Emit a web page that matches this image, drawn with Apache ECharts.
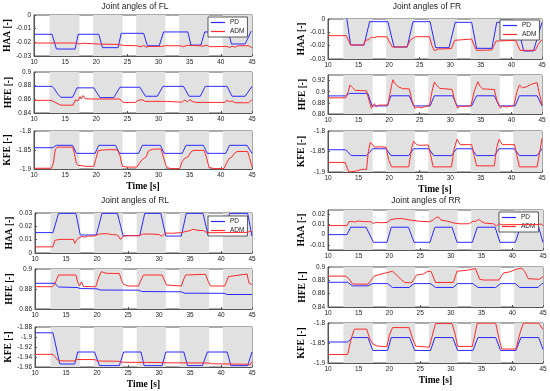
<!DOCTYPE html>
<html><head><meta charset="utf-8">
<script src="https://cdn.jsdelivr.net/npm/echarts@6/dist/echarts.min.js"></script>
<style>html,body{margin:0;padding:0;background:#fff}#c{width:550px;height:391px}</style>
</head><body><div id="c"></div>
<script>
// ---------------- DATA ----------------
const panelTitles = ['Joint angles of FL', 'Joint angles of FR', 'Joint angles of RL', 'Joint angles of RR'];
const jointNames = ['HAA [-]', 'HFE [-]', 'KFE [-]'];
const seriesNames = ['PD', 'ADM'];
const timeLabel = 'Time [s]';
const grayBands = [[12.5, 17.3], [19.5, 24.2], [26.4, 31.1], [33.3, 38.1], [40.3, 45]];

// FL
const FL_HAA_PD = [[10,-0.0141],[12.9,-0.0141],[13.6,-0.0249],[16.6,-0.0249],[17.1,-0.0141],[20.4,-0.0141],[21.0,-0.0239],[23.5,-0.0239],[24.0,-0.0134],[27.6,-0.0134],[28.2,-0.0225],[30.1,-0.0225],[30.8,-0.0124],[34.7,-0.0124],[35.2,-0.022],[36.8,-0.022],[37.4,-0.0124],[41.2,-0.0124],[41.7,-0.0212],[43.9,-0.0212],[44.9,-0.0117],[45,-0.0117]];
const FL_HAA_ADM = [[10,-0.0205],[16.3,-0.0205],[16.6,-0.0215],[16.9,-0.0205],[17.3,-0.0212],[17.8,-0.0207],[19.5,-0.021],[20.5,-0.0213],[23.5,-0.0215],[24.2,-0.0222],[26.5,-0.0225],[27.2,-0.0232],[27.6,-0.0222],[28.0,-0.0235],[28.5,-0.023],[30.5,-0.023],[31.0,-0.0225],[33.5,-0.0225],[34.0,-0.0232],[34.5,-0.0222],[36.5,-0.0225],[37.2,-0.0228],[37.7,-0.022],[38.2,-0.0232],[41.0,-0.023],[41.4,-0.0238],[41.8,-0.0228],[42.3,-0.0235],[42.8,-0.0225],[44.5,-0.0225],[45,-0.024]];
const FL_HFE_PD = [[10,0.879],[12.9,0.879],[13.3,0.875],[13.8,0.868],[14.3,0.863],[16.2,0.863],[16.9,0.8768],[19.6,0.8768],[20.6,0.8625],[22.8,0.8625],[23.8,0.8777],[27.0,0.8777],[27.9,0.8645],[29.8,0.8645],[30.7,0.879],[34.0,0.879],[34.9,0.8645],[36.7,0.8645],[37.5,0.879],[41.0,0.879],[41.8,0.8645],[43.9,0.8645],[45,0.879]];
const FL_HFE_ADM = [[10,0.8585],[12.8,0.8585],[13.5,0.855],[14.3,0.8515],[16.3,0.8515],[16.6,0.859],[16.9,0.8615],[17.1,0.858],[17.4,0.864],[17.6,0.8605],[17.9,0.8655],[18.2,0.861],[19.0,0.8605],[23.8,0.8605],[24.3,0.8555],[26.3,0.8555],[26.7,0.8585],[27.0,0.8565],[27.4,0.8595],[27.8,0.857],[28.5,0.857],[30.8,0.857],[31.1,0.8595],[31.4,0.857],[33.3,0.856],[33.8,0.856],[34.2,0.859],[34.6,0.8565],[35.0,0.8595],[35.4,0.857],[36.0,0.8555],[40.6,0.8555],[41.0,0.8585],[41.4,0.8565],[41.8,0.8575],[42.3,0.855],[44.5,0.855],[44.8,0.8585],[45,0.8595]];
const FL_KFE_PD = [[10,-1.844],[13.0,-1.844],[13.6,-1.8377],[16.2,-1.8377],[16.8,-1.8588],[19.8,-1.8588],[20.4,-1.8377],[23.1,-1.8377],[23.7,-1.8588],[26.8,-1.8588],[27.4,-1.8377],[30.3,-1.8377],[30.9,-1.8588],[33.8,-1.8588],[34.4,-1.8377],[37.2,-1.8377],[37.8,-1.8588],[40.8,-1.8588],[41.4,-1.8377],[44.2,-1.8377],[45,-1.8588]];
const FL_KFE_ADM = [[10,-1.898],[12.8,-1.898],[13.1,-1.885],[13.4,-1.85],[13.7,-1.8425],[16.2,-1.8425],[16.5,-1.86],[16.8,-1.885],[17.1,-1.891],[17.4,-1.896],[17.7,-1.891],[18.2,-1.893],[19.6,-1.893],[19.9,-1.875],[20.3,-1.852],[21.0,-1.85],[22.0,-1.849],[23.4,-1.8495],[23.8,-1.865],[24.2,-1.893],[25.0,-1.895],[26.5,-1.895],[26.9,-1.885],[27.4,-1.875],[28.0,-1.868],[28.4,-1.852],[29.0,-1.848],[30.4,-1.8475],[30.8,-1.87],[31.3,-1.896],[32.0,-1.899],[33.4,-1.899],[33.8,-1.88],[34.2,-1.872],[34.8,-1.867],[35.2,-1.855],[35.6,-1.851],[37.3,-1.851],[37.7,-1.87],[38.1,-1.896],[39.0,-1.899],[40.5,-1.899],[40.9,-1.885],[41.3,-1.873],[41.8,-1.868],[42.2,-1.858],[42.6,-1.854],[44.3,-1.854],[44.6,-1.87],[45,-1.895]];

// FR
const FR_HAA_PD = [[10,0.006],[12.9,0.006],[13.7,-0.0195],[15.9,-0.0195],[16.8,-0.002],[19.8,-0.002],[20.8,-0.021],[22.95,-0.021],[23.9,-0.002],[26.7,-0.002],[27.6,-0.0215],[29.8,-0.0215],[30.8,-0.0025],[33.5,-0.0025],[34.3,-0.022],[36.8,-0.022],[37.6,-0.0025],[40.9,-0.0025],[42.0,-0.024],[43.6,-0.024],[45,-0.0025]];
const FR_HAA_ADM = [[10,-0.0125],[13.0,-0.0125],[13.7,-0.0195],[15.8,-0.0195],[16.1,-0.016],[16.4,-0.0148],[16.7,-0.0155],[17.1,-0.0135],[17.5,-0.014],[18.0,-0.0133],[19.6,-0.0133],[20.5,-0.021],[22.9,-0.021],[23.2,-0.0185],[23.5,-0.0155],[23.9,-0.0145],[24.3,-0.0133],[26.6,-0.0133],[27.0,-0.02],[27.4,-0.0238],[28.0,-0.0225],[30.2,-0.0222],[30.7,-0.016],[31.0,-0.015],[33.5,-0.015],[33.9,-0.02],[34.3,-0.0235],[36.8,-0.0232],[37.5,-0.0165],[40.7,-0.016],[41.4,-0.0235],[43.9,-0.0235],[44.4,-0.019],[45,-0.0155]];
const FR_HFE_PD = [[10,0.8925],[12.9,0.8925],[13.5,0.897],[16.5,0.897],[17.2,0.8745],[19.7,0.8745],[20.3,0.8927],[23.3,0.8927],[24.0,0.8745],[26.7,0.8745],[27.4,0.8927],[30.4,0.8927],[31.1,0.8745],[33.5,0.8745],[34.3,0.8927],[37.2,0.8927],[38.0,0.8745],[40.6,0.8745],[41.3,0.8927],[44.2,0.8927],[45,0.8745]];
const FR_HFE_ADM = [[10,0.889],[12.9,0.889],[13.3,0.9],[13.6,0.912],[14.0,0.908],[14.4,0.9025],[16.3,0.9015],[16.7,0.885],[17.1,0.8705],[17.4,0.872],[17.6,0.8785],[17.9,0.873],[18.3,0.876],[19.8,0.876],[20.2,0.9],[20.6,0.9215],[21.0,0.914],[21.5,0.909],[22.2,0.9055],[23.3,0.905],[23.7,0.885],[24.2,0.87],[24.6,0.873],[25.2,0.871],[26.0,0.8735],[26.6,0.875],[27.0,0.9],[27.4,0.9175],[27.8,0.911],[28.3,0.906],[30.3,0.904],[30.7,0.885],[31.2,0.8705],[31.6,0.874],[32.5,0.8735],[33.4,0.875],[33.9,0.9],[34.5,0.918],[34.9,0.909],[35.3,0.905],[37.2,0.904],[37.6,0.885],[38.2,0.8705],[38.6,0.8745],[39.2,0.8725],[40.4,0.875],[40.9,0.9],[41.3,0.912],[41.8,0.907],[42.5,0.909],[43.2,0.913],[44.2,0.9165],[44.5,0.9],[45,0.876]];
const FR_KFE_PD = [[10,-1.8458],[12.9,-1.8458],[13.8,-1.86],[16.3,-1.86],[17.3,-1.8433],[19.5,-1.8433],[20.3,-1.86],[23.2,-1.86],[24.0,-1.8433],[26.5,-1.8433],[27.3,-1.86],[30.2,-1.86],[31.0,-1.8433],[33.5,-1.8433],[34.3,-1.86],[37.2,-1.86],[38.0,-1.8433],[40.5,-1.8433],[41.3,-1.86],[44.2,-1.86],[45,-1.8433]];
const FR_KFE_ADM = [[10,-1.8767],[12.8,-1.8767],[13.4,-1.9],[14.5,-1.898],[15.5,-1.8935],[16.3,-1.8935],[16.6,-1.85],[16.9,-1.8285],[17.3,-1.833],[17.6,-1.8395],[18.5,-1.8385],[19.5,-1.8395],[19.9,-1.87],[20.4,-1.8875],[23.2,-1.8875],[23.7,-1.84],[24.0,-1.825],[24.5,-1.833],[25.0,-1.835],[26.4,-1.834],[26.8,-1.86],[27.2,-1.8875],[30.2,-1.8875],[30.6,-1.845],[31.1,-1.82],[31.6,-1.8333],[33.5,-1.8333],[33.9,-1.86],[34.3,-1.885],[37.2,-1.885],[37.6,-1.84],[38.0,-1.82],[38.5,-1.8333],[40.5,-1.8333],[40.9,-1.86],[41.3,-1.8875],[44.2,-1.8875],[44.7,-1.845],[45,-1.818]];

// RL
const RL_HAA_PD = [[10,0.0153],[12.9,0.0153],[13.8,0.0297],[16.6,0.0297],[17.3,0.0135],[19.9,0.0135],[20.8,0.0297],[23.3,0.0297],[24.2,0.013],[26.9,0.013],[27.7,0.0297],[30.3,0.0297],[31.1,0.0127],[33.6,0.0127],[34.4,0.0297],[37.1,0.0297],[37.9,0.0135],[40.5,0.0135],[41.4,0.0297],[44.3,0.0297],[45,0.0127]];
const RL_HAA_ADM = [[10,0.0046],[12.9,0.0046],[13.2,0.0095],[14.0,0.0102],[16.2,0.0102],[16.4,0.0072],[16.7,0.0095],[17.0,0.0112],[17.3,0.0098],[17.6,0.0125],[18.0,0.0118],[18.5,0.0127],[19.5,0.0127],[20.3,0.0142],[21.5,0.0145],[22.5,0.0138],[23.3,0.0135],[23.8,0.0102],[24.2,0.0125],[24.8,0.013],[26.8,0.013],[27.4,0.0142],[29.0,0.0142],[30.0,0.0138],[30.5,0.0125],[31.0,0.015],[32.0,0.0148],[33.5,0.0152],[34.2,0.016],[35.0,0.0168],[35.5,0.0178],[36.3,0.017],[37.2,0.0168],[37.6,0.0155],[38.5,0.0152],[44.3,0.0155],[44.7,0.0165],[45,0.0158]];
const RL_HFE_PD = [[10,0.8857],[13.2,0.8857],[13.8,0.882],[16.8,0.8815],[17.3,0.8805],[20.0,0.8802],[20.5,0.879],[26.7,0.8788],[27.2,0.8775],[33.6,0.8772],[34.1,0.8758],[40.5,0.8757],[41.0,0.8745],[45,0.8745]];
const RL_HFE_ADM = [[10,0.8823],[12.8,0.8823],[13.2,0.885],[13.8,0.894],[16.6,0.894],[16.9,0.8867],[17.2,0.8833],[17.5,0.887],[17.8,0.8825],[19.8,0.8823],[20.3,0.892],[20.7,0.8973],[21.5,0.8957],[23.6,0.8955],[24.0,0.888],[24.3,0.8847],[25.0,0.883],[26.7,0.883],[27.1,0.889],[27.5,0.894],[30.5,0.894],[31.0,0.887],[31.2,0.884],[33.6,0.883],[34.0,0.89],[34.3,0.894],[37.5,0.8947],[37.9,0.888],[38.3,0.883],[40.6,0.883],[41.0,0.889],[41.2,0.8923],[43.0,0.894],[44.2,0.895],[44.5,0.886],[45,0.8843]];
const RL_KFE_PD = [[10,-1.8916],[12.9,-1.8916],[14.0,-1.954],[16.4,-1.954],[16.9,-1.93],[19.6,-1.93],[20.4,-1.9573],[23.6,-1.9573],[24.3,-1.93],[27.1,-1.93],[27.6,-1.9573],[30.5,-1.9573],[31.1,-1.93],[34.0,-1.93],[34.6,-1.9573],[37.0,-1.9573],[37.8,-1.93],[41.0,-1.93],[41.6,-1.9573],[44.3,-1.9573],[45,-1.93]];
const RL_KFE_ADM = [[10,-1.9347],[12.9,-1.9347],[13.8,-1.9477],[16.3,-1.948],[16.8,-1.945],[19.6,-1.9452],[20.2,-1.948],[23.5,-1.9485],[24.2,-1.9505],[30.3,-1.951],[31.0,-1.9515],[38.0,-1.952],[38.5,-1.9535],[44.3,-1.9545],[44.7,-1.956],[45,-1.949]];

// RR
const RR_HAA_PD = [[10,0],[13.1,0],[13.7,0.0072],[16.2,0.0072],[17.4,-0.0075],[19.6,-0.0075],[20.3,0.0072],[23.1,0.0072],[24.0,-0.0075],[26.6,-0.0075],[27.4,0.0072],[30.2,0.0072],[31.0,-0.0075],[33.5,-0.0075],[34.3,0.0072],[37.2,0.0072],[38.0,-0.0075],[40.5,-0.0075],[41.3,0.0072],[44.3,0.0072],[45,-0.0075]];
const RR_HAA_ADM = [[10,0.0088],[13.1,0.0088],[13.4,0.0125],[13.8,0.013],[14.3,0.0122],[15.0,0.0133],[15.8,0.0126],[16.3,0.0127],[16.6,0.0112],[17.0,0.0125],[17.4,0.0108],[17.8,0.012],[18.5,0.0116],[19.6,0.0118],[20.2,0.0145],[21.0,0.0155],[22.0,0.0157],[23.0,0.0146],[24.0,0.0136],[25.0,0.013],[26.5,0.0125],[27.2,0.0145],[27.6,0.0168],[28.0,0.0172],[28.4,0.0142],[29.5,0.013],[30.5,0.0113],[31.5,0.0105],[33.0,0.0106],[33.6,0.0132],[34.0,0.0128],[34.5,0.0148],[35.0,0.0128],[35.5,0.0112],[37.0,0.0105],[37.4,0.0082],[37.8,0.0106],[38.4,0.0095],[39.5,0.0098],[44.3,0.0098],[44.7,0.0105],[45,0.0085]];
const RR_HFE_PD = [[10,0.8771],[13.2,0.8771],[14.0,0.8717],[16.5,0.8717],[17.2,0.8751],[19.7,0.8751],[20.5,0.8693],[23.2,0.8693],[24.0,0.8751],[26.7,0.8751],[27.5,0.8693],[30.4,0.8693],[31.1,0.8751],[33.6,0.8751],[34.4,0.8693],[37.3,0.8693],[38.1,0.8751],[40.5,0.8751],[41.2,0.8693],[44.2,0.8693],[44.8,0.8751],[45,0.8751]];
const RR_HFE_ADM = [[10,0.8863],[12.9,0.8863],[13.4,0.8825],[14.0,0.8745],[16.5,0.8742],[17.0,0.88],[17.5,0.8862],[18.3,0.8885],[19.2,0.8905],[20.0,0.8925],[20.5,0.8937],[21.0,0.8895],[21.8,0.882],[22.5,0.8768],[23.6,0.8762],[24.4,0.8878],[25.5,0.8895],[26.3,0.8937],[26.8,0.893],[27.5,0.8768],[30.4,0.8768],[31.0,0.8937],[32.5,0.895],[34.0,0.8976],[34.7,0.8815],[35.3,0.8805],[37.8,0.8805],[38.6,0.8912],[39.5,0.8925],[40.5,0.8961],[41.5,0.8985],[42.0,0.8935],[42.6,0.8825],[44.4,0.8815],[45,0.8854]];
const RR_KFE_PD = [[10,-1.8475],[13.2,-1.8475],[14.0,-1.8364],[16.5,-1.8364],[17.3,-1.8686],[19.7,-1.8686],[20.3,-1.8364],[23.3,-1.8364],[24.1,-1.8686],[26.7,-1.8686],[27.4,-1.8364],[30.3,-1.8364],[31.1,-1.8686],[33.6,-1.8686],[34.4,-1.8364],[37.3,-1.8364],[38.1,-1.8686],[40.6,-1.8686],[41.4,-1.8364],[44.3,-1.8364],[45,-1.866]];
const RR_KFE_ADM = [[10,-1.8788],[13.2,-1.8788],[13.8,-1.838],[14.3,-1.8153],[16.3,-1.8153],[16.8,-1.84],[17.3,-1.8525],[18.0,-1.8575],[19.6,-1.8595],[20.0,-1.83],[20.5,-1.8115],[23.2,-1.8115],[23.8,-1.84],[24.3,-1.858],[26.5,-1.8605],[27.0,-1.83],[27.5,-1.8015],[30.2,-1.8015],[30.7,-1.828],[31.1,-1.8585],[33.5,-1.8585],[33.9,-1.83],[34.3,-1.8005],[37.3,-1.8005],[37.8,-1.837],[38.3,-1.865],[40.6,-1.865],[41.2,-1.828],[41.8,-1.8005],[44.3,-1.8005],[45,-1.816]];

// y tick labels
const FL_HAA_TICKS = [-0.03, -0.02, -0.01, 0];
const FL_HFE_TICKS = [0.84, 0.86, 0.88, 0.9];
const FL_KFE_TICKS = [-1.9, -1.85, -1.8];
const FR_HAA_TICKS = [-0.03, -0.02, -0.01, 0];
const FR_HFE_TICKS = [0.86, 0.88, 0.9, 0.92];
const FR_KFE_TICKS = [-1.9, -1.85, -1.8];
const RL_HAA_TICKS = [0, 0.01, 0.02, 0.03];
const RL_HFE_TICKS = [0.86, 0.88, 0.9];
const RL_KFE_TICKS = [-1.96, -1.94, -1.92, -1.9, -1.88];
const RR_HAA_TICKS = [-0.01, 0, 0.01, 0.02];
const RR_HFE_TICKS = [0.84, 0.86, 0.88, 0.9];
const RR_KFE_TICKS = [-1.9, -1.85, -1.8];
const X_MIN = 10, X_MAX = 45, X_STEP = 5;

// ---------------- LAYOUT ----------------
const C_BLUE = '#2a2aff', C_RED = '#ff2a2a', C_BAND = '#e1e1e1', C_AX = '#555';
const subplots = [
  {pd: FL_HAA_PD, adm: FL_HAA_ADM, j: 0, ticks: FL_HAA_TICKS, range: [-0.03, 0], rect: [34, 15, 218, 41]},
  {pd: FL_HFE_PD, adm: FL_HFE_ADM, j: 1, ticks: FL_HFE_TICKS, range: [0.84, 0.9], rect: [34, 72, 218, 41]},
  {pd: FL_KFE_PD, adm: FL_KFE_ADM, j: 2, ticks: FL_KFE_TICKS, range: [-1.9, -1.8], rect: [34, 131, 218, 38]},
  {pd: FR_HAA_PD, adm: FR_HAA_ADM, j: 0, ticks: FR_HAA_TICKS, range: [-0.03, 0], rect: [328, 19, 214, 40]},
  {pd: FR_HFE_PD, adm: FR_HFE_ADM, j: 1, ticks: FR_HFE_TICKS, range: [0.86, 0.93], rect: [328, 75, 214, 39]},
  {pd: FR_KFE_PD, adm: FR_KFE_ADM, j: 2, ticks: FR_KFE_TICKS, range: [-1.9, -1.8], rect: [328, 131, 214, 41]},
  {pd: RL_HAA_PD, adm: RL_HAA_ADM, j: 0, ticks: RL_HAA_TICKS, range: [0, 0.03], rect: [35, 213, 217, 40]},
  {pd: RL_HFE_PD, adm: RL_HFE_ADM, j: 1, ticks: RL_HFE_TICKS, range: [0.86, 0.9], rect: [35, 269, 217, 40]},
  {pd: RL_KFE_PD, adm: RL_KFE_ADM, j: 2, ticks: RL_KFE_TICKS, range: [-1.96, -1.88], rect: [35, 327, 217, 40]},
  {pd: RR_HAA_PD, adm: RR_HAA_ADM, j: 0, ticks: RR_HAA_TICKS, range: [-0.015, 0.024], rect: [328, 210, 215, 40]},
  {pd: RR_HFE_PD, adm: RR_HFE_ADM, j: 1, ticks: RR_HFE_TICKS, range: [0.84, 0.9], rect: [328, 267, 215, 40]},
  {pd: RR_KFE_PD, adm: RR_KFE_ADM, j: 2, ticks: RR_KFE_TICKS, range: [-1.9, -1.8], rect: [328, 323, 215, 40]}
];
const titlePos = [[135, 7], [427, 7], [135, 201], [426, 201]];
const legendPos = [[208, 17], [500, 20], [208, 216], [499, 212]];

const fmt = v => String(+(+v).toFixed(4));
const grid = [], xAxis = [], yAxis = [], series = [];
subplots.forEach((s, i) => {
  const [l, t, w, h] = s.rect;
  grid.push({left: l, top: t, width: w, height: h, show: true, borderColor: C_AX, borderWidth: 1, backgroundColor: '#fff'});
  xAxis.push({
    type: 'value', gridIndex: i, min: X_MIN, max: X_MAX, interval: X_STEP,
    axisLine: {show: true, onZero: false, lineStyle: {color: C_AX, width: 1}},
    axisTick: {inside: true, length: 2, lineStyle: {color: C_AX}},
    splitLine: {show: false},
    axisLabel: {fontSize: 6.5, color: '#222', margin: 3, fontFamily: 'Liberation Sans'},
    name: s.j === 2 ? timeLabel : '', nameLocation: 'middle', nameGap: 13,
    nameTextStyle: {fontFamily: 'Liberation Serif', fontWeight: 'bold', fontSize: 9.5, color: '#000'}
  });
  yAxis.push({
    type: 'value', gridIndex: i, min: s.range[0], max: s.range[1],
    axisLine: {show: true, onZero: false, lineStyle: {color: C_AX, width: 1}},
    axisTick: {inside: true, length: 2, customValues: s.ticks, lineStyle: {color: C_AX}},
    splitLine: {show: false},
    axisLabel: {fontSize: 6.5, color: '#222', margin: 3, customValues: s.ticks, formatter: fmt, fontFamily: 'Liberation Sans'},
    name: jointNames[s.j], nameLocation: 'middle', nameGap: 20,
    nameTextStyle: {fontFamily: 'Liberation Serif', fontWeight: 'bold', fontSize: 9.5, color: '#000'}
  });
  series.push({
    name: seriesNames[0], type: 'line', xAxisIndex: i, yAxisIndex: i, data: s.pd,
    symbol: 'none', lineStyle: {color: C_BLUE, width: 1}, itemStyle: {color: C_BLUE}, z: 3, silent: true,
    markArea: {silent: true, itemStyle: {color: C_BAND}, data: grayBands.map(b => [{xAxis: b[0]}, {xAxis: b[1]}])}
  });
  series.push({
    name: seriesNames[1], type: 'line', xAxisIndex: i, yAxisIndex: i, data: s.adm,
    symbol: 'none', lineStyle: {color: C_RED, width: 1}, itemStyle: {color: C_RED}, z: 4, silent: true
  });
});

const legend = legendPos.map(p => ({
  left: p[0], top: p[1], orient: 'vertical',
  data: seriesNames.map(n => ({name: n, icon: 'rect'})),
  backgroundColor: '#fff', borderColor: '#333', borderWidth: 0.8, padding: [2, 3, 2, 3],
  itemGap: 2, itemWidth: 14, itemHeight: 1.2, selectedMode: false,
  textStyle: {fontSize: 6.5, color: '#222', fontFamily: 'Liberation Sans'}
}));

const graphic = panelTitles.map((txt, k) => ({
  type: 'text', x: titlePos[k][0], y: titlePos[k][1],
  style: {text: txt, fontSize: 8.5, fontFamily: 'Liberation Sans', fill: '#222', textAlign: 'center', textVerticalAlign: 'middle'}
}));

const chart = echarts.init(document.getElementById('c'), null, {renderer: 'canvas'});
chart.setOption({animation: false, backgroundColor: '#fff', grid, xAxis, yAxis, series, legend, graphic});
</script></body></html>
